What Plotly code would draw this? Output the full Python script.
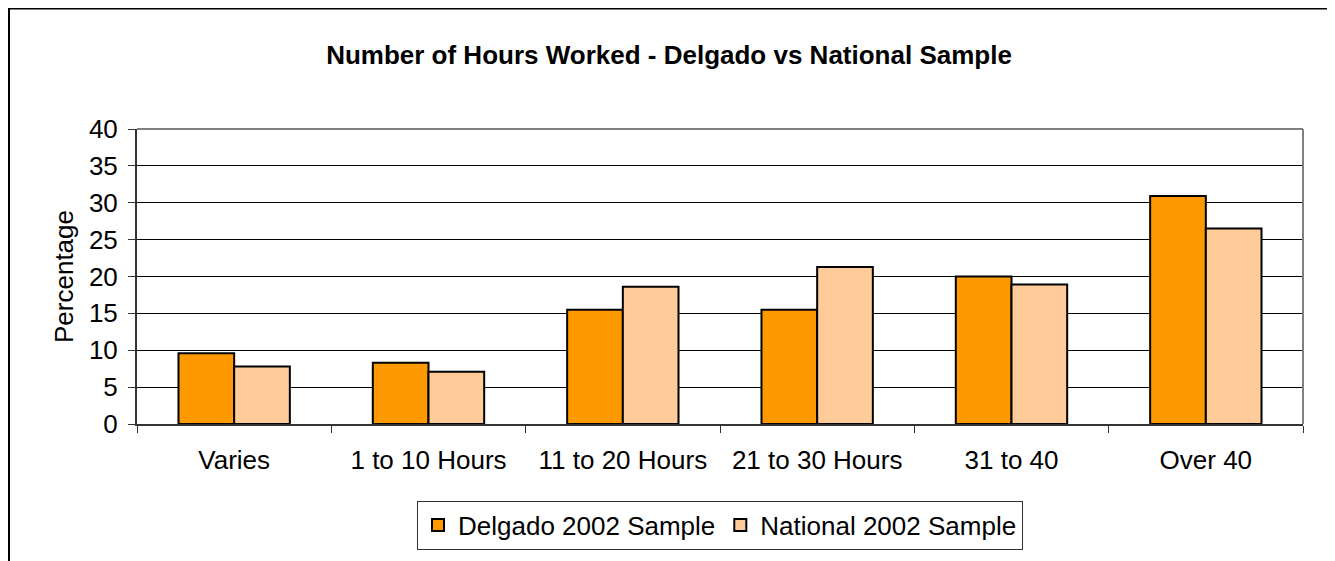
import plotly.graph_objects as go

categories = ["Varies", "1 to 10 Hours", "11 to 20 Hours", "21 to 30 Hours", "31 to 40", "Over 40"]
delgado_2002 = [9.6, 8.3, 15.5, 15.5, 20.0, 30.9]
national_2002 = [7.8, 7.1, 18.6, 21.3, 18.9, 26.5]
y_ticks = [0, 5, 10, 15, 20, 25, 30, 35, 40]

FONT = "Arial, 'Liberation Sans', sans-serif"
W, H = 1335, 561
# page has an 8px body margin, so figure coords = screen coords - 8
L, R, T, B = 129, 40, 121, 145
PW, PH = W - L - R, H - T - B

def px_x(px):
    return (px - L) / PW

def px_y(py):
    return (H - B - py) / PH

fig = go.Figure()
fig.add_trace(go.Bar(
    x=categories, y=delgado_2002, name="Delgado 2002 Sample",
    marker=dict(color="#FF9900", line=dict(color="#000000", width=2)),
))
fig.add_trace(go.Bar(
    x=categories, y=national_2002, name="National 2002 Sample",
    marker=dict(color="#FFCC99", line=dict(color="#000000", width=2)),
))

shapes = [
    # outer chart border
    dict(type="rect", xref="paper", yref="paper",
         x0=px_x(1), x1=px_x(1323), y0=px_y(570), y1=px_y(0.5),
         line=dict(color="#000000", width=2), layer="below"),
    # plot area top and right border (gray)
    dict(type="line", xref="paper", yref="paper", x0=0, x1=1, y0=1, y1=1,
         line=dict(color="#808080", width=2)),
    dict(type="line", xref="paper", yref="paper", x0=1, x1=1, y0=0, y1=1,
         line=dict(color="#808080", width=2)),
]

fig.update_layout(
    width=W, height=H,
    margin=dict(l=L, r=R, t=T, b=B, pad=0),
    paper_bgcolor="#FFFFFF", plot_bgcolor="#FFFFFF",
    font=dict(family=FONT, size=26, color="#000000"),
    title=dict(text="<b>Number of Hours Worked - Delgado vs National Sample</b>",
               x=661 / W, xanchor="center", xref="container",
               y=1 - 47 / H, yanchor="middle", yref="container",
               font=dict(family=FONT, size=26, color="#000000")),
    barmode="group", bargap=0.427, bargroupgap=0,
    showlegend=True,
    legend=dict(orientation="h", x=0.5, xanchor="center",
                y=px_y(517), yanchor="middle",
                bordercolor="#333333", borderwidth=1, bgcolor="#FFFFFF",
                font=dict(family=FONT, size=26, color="#000000"),
                itemwidth=30, tracegroupgap=0),
    shapes=shapes,
)

fig.update_xaxes(
    type="category", tickson="boundaries", ticks="outside", ticklen=7,
    tickwidth=1, tickcolor="#333333",
    showline=True, linecolor="#333333", linewidth=2,
    showgrid=False, ticklabelstandoff=12,
    tickfont=dict(family=FONT, size=26, color="#000000"),
)
fig.update_yaxes(
    range=[0, 40], tickvals=y_ticks, ticktext=[str(v) for v in y_ticks],
    ticks="outside", ticklen=7, tickwidth=1, tickcolor="#333333",
    showline=True, linecolor="#333333", linewidth=2,
    showgrid=True, gridcolor="#000000", gridwidth=1,
    zeroline=False, ticklabelstandoff=5,
    title=dict(text="Percentage", standoff=8,
               font=dict(family=FONT, size=26, color="#000000")),
    tickfont=dict(family=FONT, size=26, color="#000000"),
)

fig.write_html("out.html")
